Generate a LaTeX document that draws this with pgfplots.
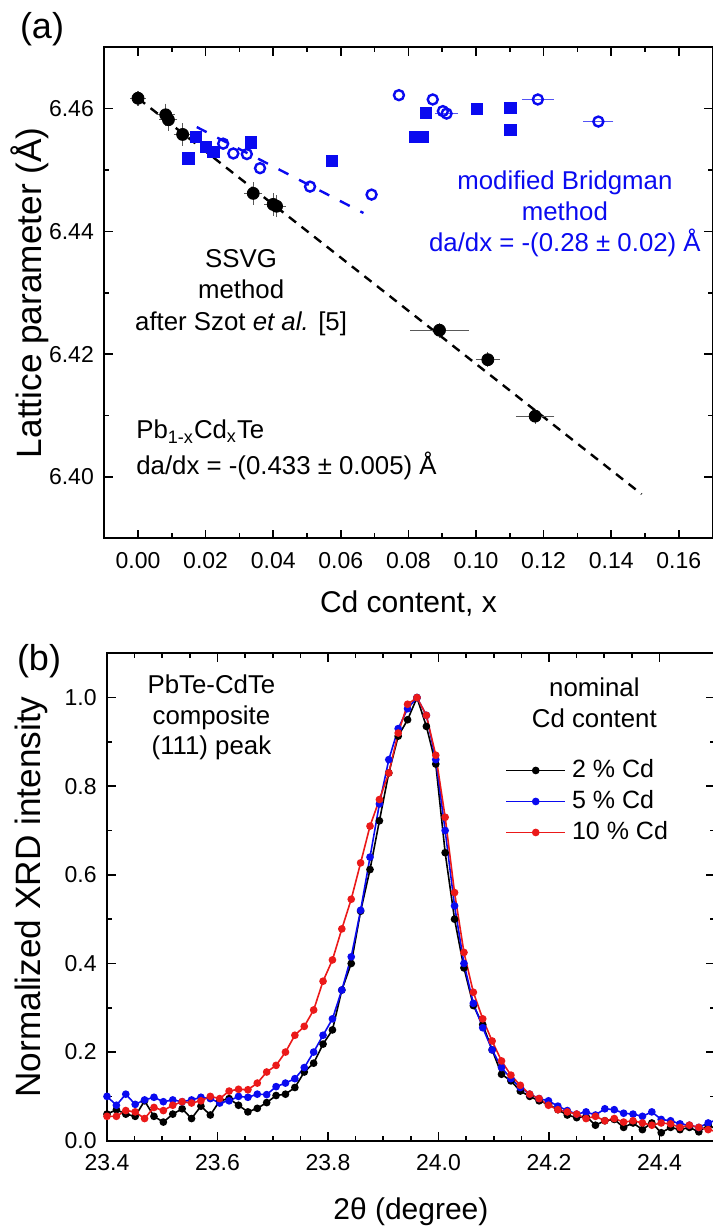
\documentclass[border=0pt]{standalone}
\usepackage{fontspec}
\setmainfont{Liberation Sans}
\usepackage{pgfplots}
\pgfplotsset{compat=1.18}
\usepackage{pgfplotstable}

\definecolor{myblue}{RGB}{10,10,240}
\definecolor{myred}{RGB}{235,25,25}

\pgfplotstableread{
x y ex ey
0.0000 6.4617 0.0008 0.0004
0.0082 6.4590 0.0012 0.0010
0.0090 6.4582 0.0012 0.0010
0.0132 6.4558 0.0012 0.0010
0.0341 6.4462 0.0012 0.0010
0.0400 6.4444 0.0012 0.0010
0.0410 6.4441 0.0012 0.0010
0.0892 6.4239 0.0072 0.0004
0.1035 6.4191 0.0021 0.0004
0.1175 6.4099 0.0042 0.0004
}\ssvg

\pgfplotstableread{
x y
0.0149 6.4519
0.0172 6.4554
0.0201 6.4538
0.0223 6.4530
0.0334 6.4545
0.0573 6.4515
0.0852 6.4593
0.0820 6.4554
0.0844 6.4554
0.1002 6.4600
0.1102 6.4601
0.1102 6.4565
}\bsq

\pgfplotstableread{
x y
0.0252 6.4543
0.0282 6.4527
0.0322 6.4526
0.0361 6.4503
0.0509 6.4473
0.0691 6.4460
0.0772 6.4622
0.0872 6.4615
0.0902 6.4596
}\bcirc

\pgfplotstableread{
x y ex
0.0913 6.4592 0.0020
0.1183 6.4615 0.0033
0.1362 6.4579 0.0030
}\bcircerr

\pgfplotstableread{
x k b r
23.400 0.060 0.100 0.055
23.417 0.070 0.080 0.055
23.434 0.060 0.105 0.068
23.451 0.055 0.082 0.065
23.468 0.090 0.092 0.050
23.485 0.055 0.098 0.075
23.502 0.042 0.088 0.068
23.519 0.060 0.092 0.080
23.536 0.072 0.088 0.088
23.553 0.050 0.092 0.085
23.570 0.078 0.098 0.090
23.587 0.058 0.095 0.100
23.604 0.090 0.085 0.095
23.621 0.095 0.090 0.112
23.638 0.080 0.100 0.116
23.655 0.065 0.098 0.115
23.672 0.073 0.105 0.130
23.689 0.086 0.104 0.155
23.706 0.102 0.122 0.170
23.723 0.105 0.130 0.200
23.740 0.120 0.140 0.238
23.757 0.155 0.165 0.258
23.774 0.175 0.200 0.295
23.791 0.218 0.238 0.360
23.808 0.250 0.275 0.408
23.825 0.340 0.340 0.478
23.842 0.400 0.415 0.545
23.859 0.518 0.520 0.627
23.876 0.612 0.640 0.710
23.893 0.722 0.760 0.770
23.910 0.830 0.860 0.830
23.927 0.913 0.930 0.920
23.944 0.950 0.975 0.985
23.961 1.000 1.000 1.000
23.978 0.935 0.960 0.960
23.995 0.850 0.860 0.870
24.012 0.650 0.700 0.730
24.029 0.500 0.530 0.560
24.046 0.390 0.400 0.425
24.063 0.305 0.310 0.335
24.080 0.262 0.255 0.275
24.097 0.205 0.205 0.225
24.114 0.150 0.165 0.180
24.131 0.135 0.140 0.148
24.148 0.112 0.120 0.125
24.165 0.100 0.105 0.105
24.182 0.090 0.095 0.095
24.199 0.082 0.090 0.080
24.216 0.070 0.078 0.070
24.233 0.058 0.068 0.065
24.250 0.052 0.060 0.060
24.267 0.055 0.065 0.050
24.284 0.035 0.058 0.055
24.301 0.045 0.072 0.045
24.318 0.048 0.070 0.050
24.335 0.030 0.062 0.042
24.352 0.040 0.060 0.045
24.369 0.025 0.055 0.040
24.386 0.040 0.065 0.035
24.403 0.018 0.048 0.040
24.420 0.030 0.045 0.038
24.437 0.025 0.038 0.030
24.454 0.030 0.035 0.035
24.471 0.020 0.030 0.030
24.488 0.035 0.040 0.025
24.505 0.025 0.048 0.020
}\xrd

\pgfplotsset{
  mystyle/.style={
    scale only axis,
    axis line style={line width=0.9pt},
    every tick/.append style={black, line width=0.8pt},
    major tick length=4.3pt,
    minor tick length=2.4pt,
    tick align=inside,
    tick label style={font=\fontsize{11.5}{13}\selectfont, inner sep=0pt},
    /pgf/number format/assume math mode=true,
    xticklabel style={anchor=base, yshift=-15pt},
    yticklabel style={anchor=east, xshift=-5pt},
    scaled x ticks=false, scaled y ticks=false,
  }
}

\begin{document}
\begin{tikzpicture}
\path[use as bounding box] (0,0) rectangle (356pt,615pt);

% ---------- panel (a) ----------
\begin{axis}[mystyle,
  at={(52.1pt,345.85pt)}, anchor=south west,
  width=304.2pt, height=245.5pt,
  xmin=-0.01, xmax=0.17, ymin=6.39, ymax=6.47,
  xtick={0,0.02,0.04,0.06,0.08,0.10,0.12,0.14,0.16},
  ytick={6.40,6.42,6.44,6.46},
  minor x tick num=1, minor y tick num=1,
  xticklabel style={/pgf/number format/.cd, fixed, fixed zerofill, precision=2},
  yticklabel style={/pgf/number format/.cd, fixed, fixed zerofill, precision=2},
  every axis x label/.style={at={(axis description cs:0.5,-0.152)}, anchor=base, font=\fontsize{15}{17}\selectfont},
  every axis y label/.style={at={(axis description cs:-0.123,0.5)}, rotate=90, anchor=center, font=\fontsize{17.6}{20}\selectfont},
  xlabel={Cd content, x},
  ylabel={Lattice parameter (Å)},
]
\addplot[black, line width=1.2pt, dash pattern=on 4.5pt off 3.5pt] coordinates {(0.0,6.4617) (0.149,6.3972)};
\addplot[myblue, line width=1.2pt, dash pattern=on 5.5pt off 6pt] coordinates {(0.0174,6.4570) (0.0667,6.4430)};

\addplot[only marks, mark=square*, mark size=2.8pt, myblue] table[x=x,y=y] {\bsq};
\addplot[only marks, mark=o, mark size=2.5pt, myblue, mark options={line width=1.2pt}] table[x=x,y=y] {\bcirc};
\addplot[only marks, mark=o, mark size=2.5pt, myblue, mark options={line width=1.2pt},
  error bars/.cd, x dir=both, x explicit,
  error bar style={myblue!70, line width=0.6pt},
  error mark options={myblue!70, mark size=2.4pt, line width=0.6pt}]
  table[x=x,y=y,x error=ex] {\bcircerr};

\addplot[only marks, mark=*, mark size=3pt, black,
  error bars/.cd, x dir=both, x explicit, y dir=both, y explicit,
  error bar style={black!65, line width=0.6pt},
  error mark options={black!65, mark size=2.5pt, line width=0.6pt}]
  table[x=x,y=y,x error=ex,y error=ey] {\ssvg};

\node[font=\fontsize{12.9}{15.75}\selectfont, align=center, text=black] at (axis cs:0.0305,6.4301)
  {SSVG\\method\\after Szot \textit{et al.} [5]};
\node[font=\fontsize{12.9}{15.5}\selectfont, anchor=base west, text=black, inner sep=0pt] at (axis cs:-0.0006,6.4062)
  {Pb\textsubscript{1-x}Cd\textsubscript{x}Te};
\node[font=\fontsize{12.9}{15.5}\selectfont, anchor=base west, text=black, inner sep=0pt] at (axis cs:-0.0006,6.4004)
  {da/dx = -(0.433 ± 0.005) Å};
\node[font=\fontsize{12.9}{15.5}\selectfont, align=center, text=myblue] at (axis cs:0.1263,6.4429)
  {modified Bridgman\\method\\da/dx = -(0.28 ± 0.02) Å};
\end{axis}

% ---------- panel (b) ----------
\begin{axis}[mystyle,
  at={(53.5pt,44.65pt)}, anchor=south west,
  width=303.9pt, height=243.7pt,
  xmin=23.4, xmax=24.5, ymin=0, ymax=1.1,
  xtick={23.4,23.6,23.8,24.0,24.2,24.4},
  ytick={0,0.2,0.4,0.6,0.8,1.0},
  minor x tick num=3, minor y tick num=1,
  xticklabel style={/pgf/number format/.cd, fixed, fixed zerofill, precision=1},
  yticklabel style={/pgf/number format/.cd, fixed, fixed zerofill, precision=1},
  every axis x label/.style={at={(axis description cs:0.5,-0.1607)}, anchor=base, font=\fontsize{15}{17}\selectfont},
  every axis y label/.style={at={(axis description cs:-0.125,0.5)}, rotate=90, anchor=center, font=\fontsize{17.6}{20}\selectfont},
  xlabel={2θ (degree)},
  ylabel={Normalized XRD intensity},
  legend cell align=left,
  legend style={at={(0.6549,0.785)}, anchor=north west, draw=none, fill=none, inner sep=0pt,
    row sep=3.5pt, column sep=3pt, font=\fontsize{12.5}{15}\selectfont,
    nodes={inner sep=0pt, text height=9.5pt, text depth=2.5pt}},
  legend image code/.code={\draw[mark repeat=2,mark phase=2] plot coordinates {(0pt,0pt) (14.75pt,0pt) (29.5pt,0pt)};},
]
\addplot[black, line width=0.8pt, mark=*, mark size=1.5pt] table[x=x,y=k] {\xrd};
\addlegendentry{2 \% Cd}
\addplot[myblue, line width=0.8pt, mark=*, mark size=1.5pt] table[x=x,y=b] {\xrd};
\addlegendentry{5 \% Cd}
\addplot[myred, line width=0.8pt, mark=*, mark size=1.5pt] table[x=x,y=r] {\xrd};
\addlegendentry{10 \% Cd}

\node[font=\fontsize{12.9}{15.25}\selectfont, align=center] at (axis cs:23.589,0.955)
  {PbTe-CdTe\\composite\\(111) peak};
\node[font=\fontsize{12.9}{15.5}\selectfont, align=center] at (axis cs:24.282,0.988)
  {nominal\\Cd content};
\end{axis}

\node[font=\fontsize{18}{20}\selectfont] at (21pt,600.5pt) {(a)};
\node[font=\fontsize{18}{20}\selectfont] at (19.5pt,284.5pt) {(b)};
\end{tikzpicture}
\end{document}
